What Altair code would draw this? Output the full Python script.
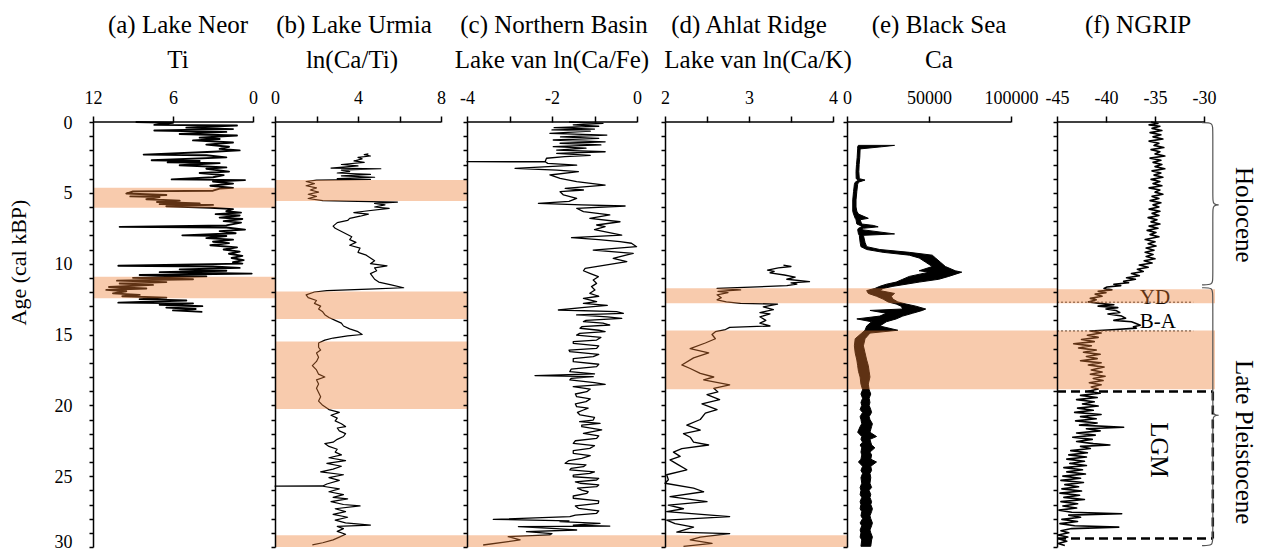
import altair as alt
import pandas as pd

# ---------------- records: (age cal kBP, value) ----------------
neor_ti = [
    (0.0, 8.8), (0.05, 6.0), (0.2, 7.4), (0.25, 1.2), (0.4, 5.0), (0.5, 1.5), (0.6, 7.4), (0.7, 2.0),
    (0.85, 5.5), (0.95, 1.2), (1.1, 4.0), (1.2, 2.5), (1.3, 4.5), (1.45, 1.5), (1.6, 3.5), (1.75, 1.8),
    (1.9, 2.5), (2.0, 1.0), (2.1, 3.0), (2.3, 8.2), (2.35, 3.5), (2.5, 2.0), (2.7, 7.6), (2.75, 4.0),
    (2.85, 6.4), (2.9, 2.5), (3.05, 5.5), (3.2, 2.0), (3.3, 3.5), (3.5, 1.8), (3.6, 4.0), (3.75, 2.2),
    (3.9, 3.0), (4.05, 6.1), (4.1, 0.6), (4.2, 3.0), (4.35, 1.5), (4.5, 3.2), (4.65, 1.5), (4.7, 2.5),
    (4.85, 3.0), (4.9, 9.0), (5.05, 9.5), (5.15, 6.5), (5.25, 9.2), (5.3, 7.0), (5.45, 8.0), (5.55, 5.5),
    (5.65, 7.2), (5.75, 4.0), (5.8, 7.0), (5.85, 3.0), (5.95, 6.5), (6.05, 3.2), (6.15, 1.5), (6.3, 2.0),
    (6.4, 0.9), (6.5, 2.8), (6.6, 1.0), (6.75, 2.5), (6.85, 0.8), (7.0, 2.2), (7.1, 0.9), (7.3, 2.0),
    (7.4, 10.0), (7.45, 2.0), (7.6, 0.6), (7.7, 2.5), (7.85, 1.3), (8.0, 5.3), (8.05, 2.0), (8.2, 3.5),
    (8.3, 1.5), (8.45, 3.0), (8.55, 1.8), (8.7, 3.2), (8.85, 1.2), (9.0, 2.2), (9.15, 1.0), (9.3, 1.8),
    (9.45, 0.8), (9.6, 1.6), (9.75, 0.7), (9.9, 1.5), (10.0, 0.8), (10.15, 10.1), (10.2, 3.0), (10.3, 1.0),
    (10.4, 5.5), (10.5, 2.0), (10.6, 7.0), (10.7, 0.1), (10.8, 8.5), (10.9, 3.5), (11.0, 9.0), (11.1, 4.5),
    (11.2, 10.2), (11.3, 6.5), (11.4, 10.0), (11.5, 7.5), (11.65, 10.8), (11.75, 8.0), (11.85, 11.0),
    (11.95, 9.5), (12.1, 10.5), (12.2, 8.5), (12.3, 9.8), (12.4, 6.5), (12.5, 8.5), (12.6, 5.0),
    (12.75, 10.1), (12.8, 4.5), (12.9, 7.0), (13.0, 3.8), (13.1, 6.5), (13.2, 4.3), (13.3, 6.0), (13.4, 3.8),
]

urmia_cati = [
    (2.25, 4.5), (2.3, 4.3), (2.4, 4.6), (2.5, 4.0), (2.6, 4.2), (2.75, 3.8), (2.85, 4.3), (3.0, 3.2),
    (3.1, 4.0), (3.25, 2.7), (3.3, 5.1), (3.4, 3.2), (3.5, 3.6), (3.6, 3.0), (3.7, 4.6), (3.8, 3.2),
    (3.9, 4.8), (4.0, 3.0), (4.05, 4.6), (4.1, 2.0), (4.2, 1.5), (4.35, 1.9), (4.5, 1.5), (4.65, 2.0),
    (4.8, 1.7), (4.95, 2.1), (5.1, 1.6), (5.25, 2.0), (5.4, 1.6), (5.55, 2.3), (5.6, 4.0), (5.65, 5.9),
    (5.75, 4.8), (5.85, 5.3), (6.0, 4.8), (6.1, 5.5), (6.3, 4.3), (6.4, 3.8), (6.5, 4.5), (6.65, 4.1),
    (6.8, 3.6), (6.95, 3.5), (7.1, 3.0), (7.35, 2.8), (7.5, 2.9), (7.8, 3.3), (8.1, 3.7), (8.3, 3.6),
    (8.5, 3.9), (8.7, 3.6), (8.9, 4.1), (9.2, 4.0), (9.4, 4.4), (9.6, 4.6), (9.8, 4.8), (10.0, 4.6),
    (10.15, 5.4), (10.3, 4.8), (10.5, 4.9), (10.7, 4.6), (10.9, 4.7), (11.1, 4.8), (11.3, 5.0),
    (11.5, 5.6), (11.7, 6.2), (11.8, 4.5), (11.9, 2.5), (12.0, 1.9), (12.2, 1.5), (12.4, 1.6),
    (12.6, 2.0), (12.8, 1.9), (13.0, 2.2), (13.2, 2.1), (13.4, 2.3), (13.6, 2.4), (13.8, 2.6),
    (14.0, 2.9), (14.2, 3.2), (14.4, 3.3), (14.6, 3.6), (14.8, 4.0), (15.0, 4.2), (15.1, 3.5),
    (15.25, 2.8), (15.4, 2.4), (15.6, 2.1), (15.9, 2.1), (16.1, 2.2), (16.3, 2.0), (16.6, 2.1),
    (16.9, 2.0), (17.2, 1.8), (17.5, 2.0), (17.8, 2.1), (18.0, 2.4), (18.2, 2.0), (18.5, 2.1),
    (18.8, 2.0), (19.1, 2.1), (19.4, 2.2), (19.7, 2.1), (20.0, 2.3), (20.3, 2.6), (20.5, 3.1),
    (20.7, 2.7), (20.9, 3.0), (21.1, 2.9), (21.3, 3.2), (21.5, 3.4), (21.6, 3.0), (21.8, 3.1),
    (22.0, 3.4), (22.2, 3.3), (22.4, 3.0), (22.6, 2.8), (22.7, 2.4), (22.9, 2.6), (23.1, 3.0),
    (23.3, 2.9), (23.5, 3.2), (23.7, 2.6), (23.9, 3.4), (24.1, 2.5), (24.3, 3.2), (24.5, 2.8),
    (24.7, 2.2), (24.9, 3.3), (25.1, 2.6), (25.3, 3.1), (25.55, 2.5), (25.69, 2.3), (25.7, 0.0),
    (25.71, 2.3), (25.9, 3.1), (26.1, 2.6), (26.3, 3.3), (26.5, 2.8), (26.6, 3.5), (26.8, 2.7),
    (27.0, 3.3), (27.1, 4.1), (27.3, 2.9), (27.5, 3.4), (27.7, 2.8), (27.9, 3.5), (28.1, 2.9),
    (28.3, 3.4), (28.45, 4.6), (28.55, 3.0), (28.7, 3.3), (28.9, 3.0), (29.1, 3.4), (29.3, 3.1),
    (29.5, 2.8), (29.7, 2.3), (29.85, 1.8),
]

van_nb_cafe = [
    (0.0, -1.6), (0.09, -0.8), (0.2, -1.5), (0.3, -0.9), (0.4, -1.95), (0.5, -1.0), (0.56, -2.0),
    (0.65, -1.1), (0.8, -2.05), (0.92, -0.71), (1.05, -1.8), (1.15, -0.9), (1.27, -1.97), (1.4, -0.75),
    (1.5, -1.81), (1.62, -0.85), (1.74, -1.97), (1.85, -1.2), (1.98, -1.89), (2.1, -0.75), (2.21, -1.89),
    (2.35, -1.1), (2.45, -1.7), (2.56, -2.13), (2.79, -2.16), (2.8, -4.0), (2.81, -2.16), (2.92, -2.1),
    (3.05, -1.42), (3.27, -2.87), (3.39, -1.89), (3.5, -1.38), (3.74, -2.05), (3.98, -1.81), (4.21, -1.42),
    (4.45, -0.75), (4.68, -1.69), (4.8, -1.26), (4.92, -1.81), (5.15, -1.73), (5.39, -1.42), (5.6, -1.6),
    (5.74, -2.32), (5.85, -1.3), (5.93, -0.28), (6.09, -1.42), (6.33, -1.26), (6.56, -0.64), (6.8, -1.11),
    (7.04, -0.40), (7.27, -0.95), (7.39, -0.75), (7.6, -1.0), (7.98, -0.36), (8.16, -1.54), (8.3, -0.9),
    (8.45, -0.40), (8.56, -0.13), (8.8, -0.01), (9.04, -1.03), (9.27, -0.09), (9.62, -0.56), (9.86, -0.24),
    (10.09, -0.71), (10.33, -1.22), (10.5, -1.26), (10.68, -1.11), (10.92, -0.91), (11.15, -1.03),
    (11.39, -0.95), (11.62, -1.07), (11.86, -0.99), (12.09, -1.11), (12.3, -0.9), (12.45, -1.26),
    (12.68, -0.95), (12.8, -1.26), (12.95, -0.7), (13.1, -1.3), (13.27, -1.85), (13.39, -0.48),
    (13.51, -0.32), (13.62, -1.42), (13.75, -0.7), (13.86, -0.36), (14.0, -1.2), (14.09, -1.26),
    (14.2, -0.8), (14.33, -0.64), (14.45, -1.3), (14.56, -1.34), (14.7, -0.9), (14.8, -0.75),
    (14.92, -1.35), (15.04, -1.42), (15.2, -0.85), (15.39, -0.95), (15.5, -1.5), (15.62, -1.50),
    (15.8, -0.9), (15.98, -0.95), (16.1, -1.6), (16.21, -1.58), (16.4, -0.9), (16.56, -1.03),
    (16.7, -1.5), (16.92, -1.50), (17.1, -0.9), (17.27, -0.95), (17.45, -1.55), (17.62, -1.58),
    (17.78, -1.0), (17.9, -2.40), (17.98, -1.03), (18.1, -1.55), (18.21, -1.58), (18.4, -1.0),
    (18.52, -0.75), (18.68, -1.5), (18.85, -1.1), (19.04, -1.18), (19.2, -1.45), (19.39, -1.42),
    (19.55, -1.1), (19.74, -1.2), (19.9, -1.45), (20.09, -1.42), (20.2, -1.15), (20.33, -1.26),
    (20.5, -1.4), (20.68, -1.34), (20.85, -1.0), (21.04, -1.03), (21.15, -1.35), (21.27, -0.87),
    (21.4, -1.3), (21.51, -1.30), (21.74, -0.83), (21.98, -1.26), (22.15, -0.9), (22.33, -0.95),
    (22.5, -1.45), (22.68, -1.50), (22.85, -1.0), (23.04, -1.11), (23.2, -1.5), (23.39, -1.50),
    (23.55, -1.1), (23.74, -1.30), (23.9, -1.6), (24.09, -1.69), (24.2, -1.2), (24.33, -1.26),
    (24.45, -1.55), (24.56, -1.58), (24.7, -1.0), (24.8, -1.11), (24.92, -1.5), (25.04, -1.50),
    (25.15, -0.9), (25.27, -0.95), (25.4, -1.45), (25.5, -1.34), (25.62, -0.9), (25.74, -0.95),
    (25.85, -1.4), (25.98, -1.30), (26.1, -1.15), (26.21, -1.18), (26.4, -1.5), (26.56, -1.50),
    (26.75, -0.9), (26.92, -0.91), (27.1, -1.45), (27.27, -1.38), (27.45, -0.9), (27.62, -0.95),
    (27.75, -1.45), (27.86, -1.58), (28.05, -3.38), (28.15, -1.6), (28.21, -1.81), (28.33, -0.87),
    (28.45, -1.5), (28.52, -0.64), (28.56, -2.79), (28.7, -1.9), (28.8, -1.42), (28.92, -2.6),
    (29.05, -2.0), (29.15, -2.05), (29.27, -3.03), (29.5, -2.75), (29.86, -3.62),
]

van_ar_cak = [
    (10.1, 3.41), (10.2, 3.5), (10.3, 3.35), (10.45, 3.22), (10.55, 3.3), (10.65, 3.25), (10.8, 3.42),
    (10.95, 3.55), (11.1, 3.45), (11.27, 3.72), (11.35, 3.5), (11.45, 3.57), (11.55, 3.45), (11.75, 2.62),
    (11.85, 2.9), (11.95, 2.63), (12.05, 2.75), (12.2, 2.62), (12.4, 2.67), (12.55, 2.62), (12.7, 2.73),
    (12.8, 2.9), (12.85, 3.34), (13.05, 3.17), (13.25, 3.29), (13.45, 3.13), (13.55, 3.25), (13.75, 3.13),
    (14.0, 3.2), (14.2, 3.13), (14.4, 3.25), (14.5, 2.77), (14.65, 2.72), (14.8, 2.6), (15.0, 2.56),
    (15.3, 2.6), (15.6, 2.48), (16.0, 2.3), (16.3, 2.52), (16.65, 2.34), (17.15, 2.2), (17.4, 2.3),
    (17.75, 2.42), (18.0, 2.58), (18.2, 2.46), (18.55, 2.77), (18.8, 2.58), (19.05, 2.63), (19.25, 2.5),
    (19.6, 2.65), (19.9, 2.44), (20.3, 2.62), (20.55, 2.48), (21.0, 2.42), (21.4, 2.26), (21.75, 2.42),
    (22.0, 2.22), (22.25, 2.3), (22.6, 2.34), (22.8, 2.52), (23.05, 2.2), (23.3, 2.1), (23.6, 2.18),
    (23.85, 2.06), (24.2, 2.16), (24.55, 2.26), (24.9, 2.02), (25.25, 2.04), (25.5, 2.0), (25.85, 2.34),
    (26.1, 2.46), (26.45, 2.06), (26.8, 2.5), (27.05, 2.04), (27.3, 2.22), (27.5, 2.02), (27.85, 2.77),
    (28.1, 2.02), (28.35, 2.12), (28.6, 2.34), (28.95, 2.14), (29.05, 2.77), (29.3, 2.42), (29.5, 2.3),
    (29.75, 2.56), (29.95, 2.22),
]

# Black Sea Ca: (age, low, high) envelope of the densely sampled record
bsea_ca = [
    (1.65, 6900, 29000), (1.75, 6500, 21000), (1.9, 6500, 8000), (2.5, 6200, 7800), (3.0, 5800, 7400),
    (3.5, 5500, 7200), (4.0, 5600, 7500), (4.1, 7000, 11000), (4.25, 5000, 7000), (4.4, 4500, 6500),
    (4.9, 4000, 6000), (5.5, 3500, 5500), (6.0, 3500, 5500), (6.3, 3500, 6000), (6.5, 4000, 7000),
    (6.8, 5000, 13000), (6.9, 5500, 8000), (7.2, 6000, 9000), (7.3, 8000, 16000), (7.4, 9000, 19000),
    (7.5, 7000, 10000), (7.6, 6500, 9000), (7.9, 7000, 29000), (8.0, 7500, 10000), (8.5, 8000, 11000),
    (8.8, 8500, 12000), (9.0, 12000, 20000), (9.2, 22000, 38000), (9.4, 38000, 52000),
    (9.6, 44000, 54000), (9.9, 48000, 57000), (10.2, 52000, 60000), (10.5, 44000, 66000),
    (10.6, 50000, 70000), (10.9, 38000, 62000), (11.1, 34000, 56000), (11.3, 30000, 44000),
    (11.45, 24000, 36000), (11.6, 20000, 28000), (11.75, 17000, 22000), (11.9, 12000, 20000),
    (12.1, 13000, 29000), (12.3, 18000, 27000), (12.5, 22000, 28000), (12.7, 25000, 31000),
    (12.85, 30000, 36000), (13.0, 33000, 42000), (13.2, 34000, 48000), (13.3, 14000, 46000),
    (13.5, 24000, 40000), (13.7, 20000, 34000), (13.9, 6000, 30000), (14.1, 15000, 24000),
    (14.4, 12000, 20000), (14.7, 11000, 31000), (14.9, 9000, 14000), (15.3, 5000, 11000),
    (15.8, 4500, 10000), (16.3, 5000, 11000), (16.8, 6000, 12000), (17.2, 6500, 13000),
    (17.6, 7000, 13500), (18.0, 8000, 14000), (18.5, 8500, 13000), (18.9, 9500, 13500),
    (19.2, 8500, 14500), (19.5, 9500, 13500), (19.8, 8500, 14000), (20.0, 9000, 13500),
    (20.3, 8000, 14500), (20.5, 9500, 15000), (20.8, 8000, 13500), (21.0, 8500, 14000),
    (21.3, 9000, 15500), (21.5, 8000, 15000), (21.9, 6500, 14000), (22.2, 9000, 18000),
    (22.4, 8500, 14000), (22.6, 9500, 14500), (22.8, 8000, 15000), (23.0, 9000, 17000),
    (23.3, 8500, 14000), (23.5, 9000, 15000), (23.8, 8500, 14500), (24.0, 7000, 18000),
    (24.3, 9500, 14500), (24.6, 8500, 15000), (24.8, 9500, 14000), (25.1, 8500, 14500),
    (25.5, 9000, 14000), (25.8, 8000, 15000), (26.0, 8500, 13500), (26.3, 8000, 14500),
    (26.5, 9000, 14000), (26.8, 8000, 15000), (27.0, 8500, 14500), (27.3, 8000, 15500),
    (27.5, 9000, 15000), (27.8, 8500, 14000), (28.0, 9500, 14500), (28.3, 8000, 15500),
    (28.5, 9000, 15000), (28.8, 8000, 14000), (29.0, 8500, 14500), (29.3, 8000, 15500),
    (29.5, 9000, 15000), (29.95, 8500, 14500),
]

ngrip_d18o = [
    (0.0, -35.4), (0.1, -34.7), (0.2, -35.6), (0.3, -34.5), (0.45, -35.3), (0.6, -34.3), (0.75, -35.5),
    (0.9, -34.4), (1.05, -35.2), (1.2, -34.2), (1.35, -35.6), (1.5, -34.6), (1.65, -35.1), (1.8, -34.1),
    (1.95, -35.4), (2.1, -34.5), (2.25, -35.0), (2.4, -34.0), (2.55, -35.5), (2.7, -34.4), (2.85, -35.2),
    (3.0, -34.3), (3.15, -35.0), (3.3, -34.0), (3.45, -35.3), (3.6, -34.4), (3.75, -35.1), (3.9, -34.2),
    (4.05, -35.4), (4.2, -34.5), (4.35, -35.2), (4.5, -34.3), (4.65, -35.6), (4.8, -34.5), (4.95, -35.0),
    (5.1, -34.2), (5.25, -35.3), (5.4, -34.6), (5.55, -35.5), (5.7, -34.4), (5.85, -35.2), (6.0, -34.6),
    (6.15, -35.6), (6.3, -34.5), (6.45, -35.3), (6.6, -34.6), (6.75, -35.7), (6.9, -34.8), (7.05, -35.4),
    (7.2, -34.5), (7.35, -35.6), (7.5, -34.7), (7.65, -35.8), (7.8, -34.9), (7.95, -35.5), (8.1, -34.6),
    (8.3, -36.0), (8.45, -35.0), (8.6, -35.7), (8.75, -34.9), (8.9, -35.9), (9.05, -35.1), (9.2, -36.0),
    (9.35, -35.2), (9.5, -35.9), (9.65, -35.0), (9.8, -36.1), (9.95, -35.3), (10.1, -36.6), (10.25, -35.7),
    (10.4, -36.8), (10.55, -36.2), (10.7, -37.4), (10.85, -36.6), (11.0, -37.9), (11.1, -37.0),
    (11.25, -38.2), (11.35, -37.7), (11.45, -39.2), (11.55, -38.5), (11.65, -39.9), (11.75, -40.2),
    (11.85, -39.4), (11.95, -40.8), (12.05, -40.0), (12.15, -41.1), (12.3, -40.4), (12.45, -41.6),
    (12.55, -41.0), (12.7, -41.8), (12.8, -40.6), (12.9, -39.2), (13.0, -40.8), (13.1, -38.8),
    (13.2, -40.0), (13.3, -39.0), (13.45, -38.6), (13.55, -39.8), (13.7, -38.4), (13.85, -38.0),
    (14.0, -39.2), (14.1, -37.4), (14.2, -37.0), (14.35, -36.5), (14.45, -37.2), (14.55, -36.9),
    (14.65, -39.0), (14.75, -41.6), (14.9, -40.5), (15.05, -41.9), (15.2, -40.8), (15.35, -42.5),
    (15.5, -41.2), (15.65, -43.3), (15.8, -41.5), (15.95, -42.8), (16.1, -41.0), (16.25, -42.3),
    (16.4, -40.6), (16.55, -42.0), (16.7, -40.9), (16.85, -42.6), (17.0, -40.5), (17.15, -41.8),
    (17.3, -40.2), (17.5, -41.5), (17.65, -40.4), (17.8, -41.6), (17.95, -40.1), (18.1, -41.3),
    (18.25, -40.3), (18.4, -41.7), (18.55, -40.5), (18.7, -41.5), (18.85, -40.8), (19.0, -41.8),
    (19.15, -40.6), (19.3, -42.6), (19.45, -40.9), (19.6, -43.0), (19.75, -41.2), (19.9, -42.4),
    (20.05, -40.8), (20.2, -42.9), (20.35, -41.3), (20.5, -43.2), (20.65, -40.5), (20.8, -42.6),
    (20.95, -41.0), (21.1, -43.1), (21.25, -40.9), (21.4, -42.7), (21.55, -38.2), (21.65, -42.0),
    (21.8, -40.6), (21.95, -43.0), (22.1, -41.1), (22.25, -43.4), (22.4, -41.4), (22.55, -43.0),
    (22.7, -41.3), (22.8, -39.6), (22.9, -42.6), (23.05, -41.6), (23.2, -43.6), (23.35, -41.9),
    (23.5, -43.8), (23.65, -42.0), (23.8, -44.0), (23.95, -42.2), (24.1, -43.7), (24.25, -42.0),
    (24.4, -44.3), (24.55, -42.4), (24.7, -44.0), (24.85, -42.1), (25.0, -44.4), (25.15, -42.6),
    (25.3, -44.6), (25.45, -42.3), (25.6, -44.2), (25.75, -42.8), (25.9, -44.5), (26.05, -42.5),
    (26.2, -44.7), (26.35, -42.7), (26.5, -44.3), (26.65, -42.2), (26.8, -44.6), (26.95, -42.9),
    (27.1, -44.4), (27.25, -43.0), (27.4, -44.8), (27.55, -43.5), (27.65, -38.4), (27.75, -43.8),
    (27.9, -42.6), (28.05, -44.5), (28.2, -42.9), (28.35, -44.7), (28.5, -43.2), (28.6, -38.7),
    (28.7, -43.5), (28.85, -44.6), (29.0, -43.8), (29.15, -44.9), (29.3, -43.9), (29.45, -44.7),
    (29.6, -44.0), (29.75, -44.9), (29.9, -44.2),
]

# shaded intervals (start, end) in cal kBP for each panel
bands_a = [(4.64, 6.05), (10.92, 12.44)]
bands_b = [(4.10, 5.58), (11.97, 13.90), (15.50, 20.25), (29.17, 30.0)]
bands_c = [(29.17, 30.0)]
bands_d = [(11.74, 12.80), (14.72, 18.87), (29.17, 30.0)]
bands_e = [(11.74, 12.80), (14.72, 18.87)]
bands_f = [(11.80, 12.80), (14.72, 18.87)]

# NGRIP annotations
event_lines = [("YD", 12.72, 12.44), ("B-A", 14.75, 14.09)]   # label, boundary age, label age
lgm_box = (19.03, 29.4)
periods = [("Holocene", 0.05, 11.5, 5.85, 6.55), ("Late Pleistocene", 11.7, 29.9, 20.7, 22.6)]

# ---------------- styling ----------------
FONT = "Liberation Serif"
PLOT_H = 425
ORANGE = "#ED7D31"
AGE_SCALE = alt.Scale(domain=[0, 30], reverse=True, nice=False, zero=False)


def x_scale(left_val, right_val, data_w, panel_w):
    far = left_val + (right_val - left_val) * panel_w / data_w
    lo, hi = sorted([left_val, far])
    return alt.Scale(domain=[lo, hi], reverse=left_val > right_val, nice=False, zero=False)


def top_axis(values, label_test):
    return alt.Axis(
        orient="top", values=values, labelExpr=f"({label_test}) ? '' + datum.value : ''",
        domain=False, ticks=True, tickSize=6, tickWidth=1.5, tickColor="black",
        labelFont=FONT, labelFontSize=18, labelColor="black", labelPadding=13,
        labelBaseline="alphabetic", labelFlush=False, labelOverlap=False, labelBound=False,
        grid=False, title=None, zindex=2,
    )


def age_axis(first):
    opts = dict(
        orient="left", values=list(range(31)), tickSize=4, tickWidth=1.5, tickColor="black",
        domainColor="black", domainWidth=1.5, grid=False, zindex=2,
    )
    if first:
        opts.update(
            labels=True, labelExpr="datum.value % 5 == 0 ? '' + datum.value : ''",
            labelFont=FONT, labelFontSize=18, labelPadding=17, labelColor="black",
            labelFlush=False, labelOverlap=False, labelBaseline="alphabetic",
            labelOffset={"condition": {"test": "datum.value == 30", "value": 0}, "value": 6},
            title="Age (cal kBP)", titleFont=FONT, titleFontSize=22, titleFontWeight="normal",
            titleColor="black", titleX=-75, titleY=140, titleAngle=270,
            titleAlign="center", titleBaseline="middle",
        )
    else:
        opts.update(labels=False, title=None)
    return alt.Axis(**opts)


def build_panel(cfg, series_layer, extras_under=(), extras_over=()):
    xs = x_scale(cfg["left"], cfg["right"], cfg["data_w"], cfg["width"])
    xax = top_axis(cfg["ticks"], cfg["test"])
    yax = age_axis(cfg.get("first", False))

    def X(field):
        return alt.X(field, type="quantitative", scale=xs, axis=xax)

    def Y(field):
        return alt.Y(field, type="quantitative", scale=AGE_SCALE, axis=yax)

    lo, hi = sorted([cfg["left"], cfg["right"]])
    axis_line = alt.Chart(pd.DataFrame({"lo": [lo], "hi": [hi]})).mark_rule(
        color="black", strokeWidth=1.5
    ).encode(x=X("lo"), x2="hi", y=alt.value(0))

    band_df = pd.DataFrame(cfg["bands"], columns=["start", "end"])
    bands = alt.Chart(band_df).mark_rect(color=ORANGE, opacity=0.4).encode(
        y=Y("start"), y2="end", x=alt.value(0), x2=alt.value(cfg.get("band_w", cfg["width"]))
    )

    layers = [axis_line, series_layer(X, Y)]
    layers += [f(X, Y) for f in extras_under]
    layers.append(bands)
    layers += [f(X, Y) for f in extras_over]

    for text, cx, ty in cfg["titles"]:
        layers.append(
            alt.Chart(pd.DataFrame({"t": [text]})).mark_text(
                font=FONT, fontSize=25, align="center", baseline="alphabetic", color="black"
            ).encode(x=alt.value(cx), y=alt.value(ty), text="t:N")
        )
    return alt.layer(*layers).properties(width=cfg["width"], height=PLOT_H)


def line_series(pairs, width):
    df = pd.DataFrame(pairs, columns=["age", "value"])

    def layer(X, Y):
        return alt.Chart(df).mark_line(color="black", strokeWidth=width, strokeJoin="round").encode(
            x=X("value"), y=Y("age"), order=alt.Order("age:Q")
        )
    return layer


def envelope_series(triples):
    df = pd.DataFrame(triples, columns=["age", "lo", "hi"])

    def layer(X, Y):
        return alt.Chart(df).mark_area(
            orient="horizontal", color="black", stroke="black", strokeWidth=1.0
        ).encode(x=X("lo"), x2="hi", y=Y("age"))
    return layer


# ---------------- NGRIP annotation layers ----------------
def ngrip_labels(X, Y):
    df = pd.DataFrame({"t": [e[0] for e in event_lines], "x": [-36.55] * 2, "y": [e[2] for e in event_lines]})
    return alt.Chart(df).mark_text(font=FONT, fontSize=21, align="left", baseline="middle", color="black").encode(
        x=X("x"), y=Y("y"), text="t:N"
    )


def ngrip_event_rules(X, Y):
    df = pd.DataFrame({"y": [e[1] for e in event_lines], "x0": [-45.0] * 2, "x1": [-31.1] * 2})
    return alt.Chart(df).mark_rule(color="#303030", strokeWidth=1, strokeDash=[2, 2]).encode(
        x=X("x0"), x2="x1", y=Y("y")
    )


def lgm_rules_h(X, Y):
    df = pd.DataFrame({"y": list(lgm_box), "x0": [-45.0] * 2, "x1": [-29.1] * 2})
    return alt.Chart(df).mark_rule(color="black", strokeWidth=2.5, strokeDash=[9, 5]).encode(
        x=X("x0"), x2="x1", y=Y("y")
    )


def lgm_rule_v(X, Y):
    df = pd.DataFrame({"x": [-29.1], "y0": [lgm_box[0]], "y1": [lgm_box[1]]})
    return alt.Chart(df).mark_rule(color="black", strokeWidth=2.5, strokeDash=[9, 5]).encode(
        x=X("x"), y=Y("y0"), y2="y1"
    )


def lgm_label(X, Y):
    df = pd.DataFrame({"t": ["LGM"], "x": [-34.6], "y": [23.15]})
    return alt.Chart(df).mark_text(font=FONT, fontSize=25, angle=90, align="center", baseline="middle",
                                   color="black").encode(x=X("x"), y=Y("y"), text="t:N")


def braces(X, Y):
    rows = []
    x_end, x_mid, x_tip, r = -30.2, -29.1, -28.2, 0.45
    for name, top, bottom, tip, _ in periods:
        pts = [(x_end, top), (x_mid, top), (x_mid, top + r), (x_mid, tip - r), (x_mid, tip),
               (x_tip, tip), (x_mid, tip), (x_mid, tip + r), (x_mid, bottom - r), (x_mid, bottom),
               (x_end, bottom)]
        for i, (bx, by) in enumerate(pts):
            rows.append({"g": name, "i": i, "bx": bx, "by": by})
    df = pd.DataFrame(rows)
    return alt.Chart(df).mark_line(interpolate="basis", color="#555555", strokeWidth=1.2).encode(
        x=X("bx"), y=Y("by"), detail="g:N", order=alt.Order("i:Q")
    )


def period_labels(X, Y):
    df = pd.DataFrame({"t": [p[0] for p in periods], "x": [-25.9] * 2, "y": [p[4] for p in periods]})
    return alt.Chart(df).mark_text(font=FONT, fontSize=25, angle=90, align="center", baseline="middle",
                                   color="black").encode(x=X("x"), y=Y("y"), text="t:N")


# ---------------- panels ----------------
cfg_a = dict(first=True, left=12, right=0, data_w=160, width=182, ticks=[12, 6, 0], test="true",
             bands=bands_a, titles=[("(a) Lake Neor", 85, -89), ("Ti", 85, -54)])
cfg_b = dict(left=0, right=8, data_w=166, width=192, ticks=[0, 2, 4, 6, 8], test="datum.value % 4 == 0",
             bands=bands_b, titles=[("(b) Lake Urmia", 79, -89), ("ln(Ca/Ti)", 77, -54)])
cfg_c = dict(left=-4, right=0, data_w=170, width=198, ticks=[-4, -3, -2, -1, 0], test="datum.value % 2 == 0",
             bands=bands_c, titles=[("(c) Northern Basin", 87, -89), ("Lake van ln(Ca/Fe)", 85, -54)])
cfg_d = dict(left=2, right=4, data_w=168, width=182, ticks=[2, 2.5, 3, 3.5, 4], test="datum.value % 1 == 0",
             bands=bands_d, titles=[("(d) Ahlat Ridge", 84, -89), ("Lake van ln(Ca/K)", 93, -54)])
cfg_e = dict(left=0, right=100000, data_w=164, width=210, ticks=[0, 50000, 100000], test="true",
             bands=bands_e, titles=[("(e) Black Sea", 92, -89), ("Ca", 92, -54)])
cfg_f = dict(left=-45, right=-30, data_w=147, width=204, ticks=[-45, -40, -35, -30], test="true",
             bands=bands_f, band_w=158, titles=[("(f) NGRIP", 81, -89)])

panel_a = build_panel(cfg_a, line_series(neor_ti, 1.9))
panel_b = build_panel(cfg_b, line_series(urmia_cati, 1.2))
panel_c = build_panel(cfg_c, line_series(van_nb_cafe, 1.3))
panel_d = build_panel(cfg_d, line_series(van_ar_cak, 1.3))
panel_e = build_panel(cfg_e, envelope_series(bsea_ca))
panel_f = build_panel(
    cfg_f, line_series(ngrip_d18o, 1.6),
    extras_under=[ngrip_event_rules, ngrip_labels],
    extras_over=[lgm_rules_h, lgm_rule_v, lgm_label, braces, period_labels],
)

chart = alt.hconcat(
    panel_a, panel_b, panel_c, panel_d, panel_e, panel_f, spacing=0, bounds="flush"
).properties(
    padding={"left": 7, "top": 13, "right": 0, "bottom": 0},
    background="white",
).configure(font=FONT).configure_view(strokeOpacity=0)

chart.save("out.html", embed_options={"renderer": "svg", "actions": False})
